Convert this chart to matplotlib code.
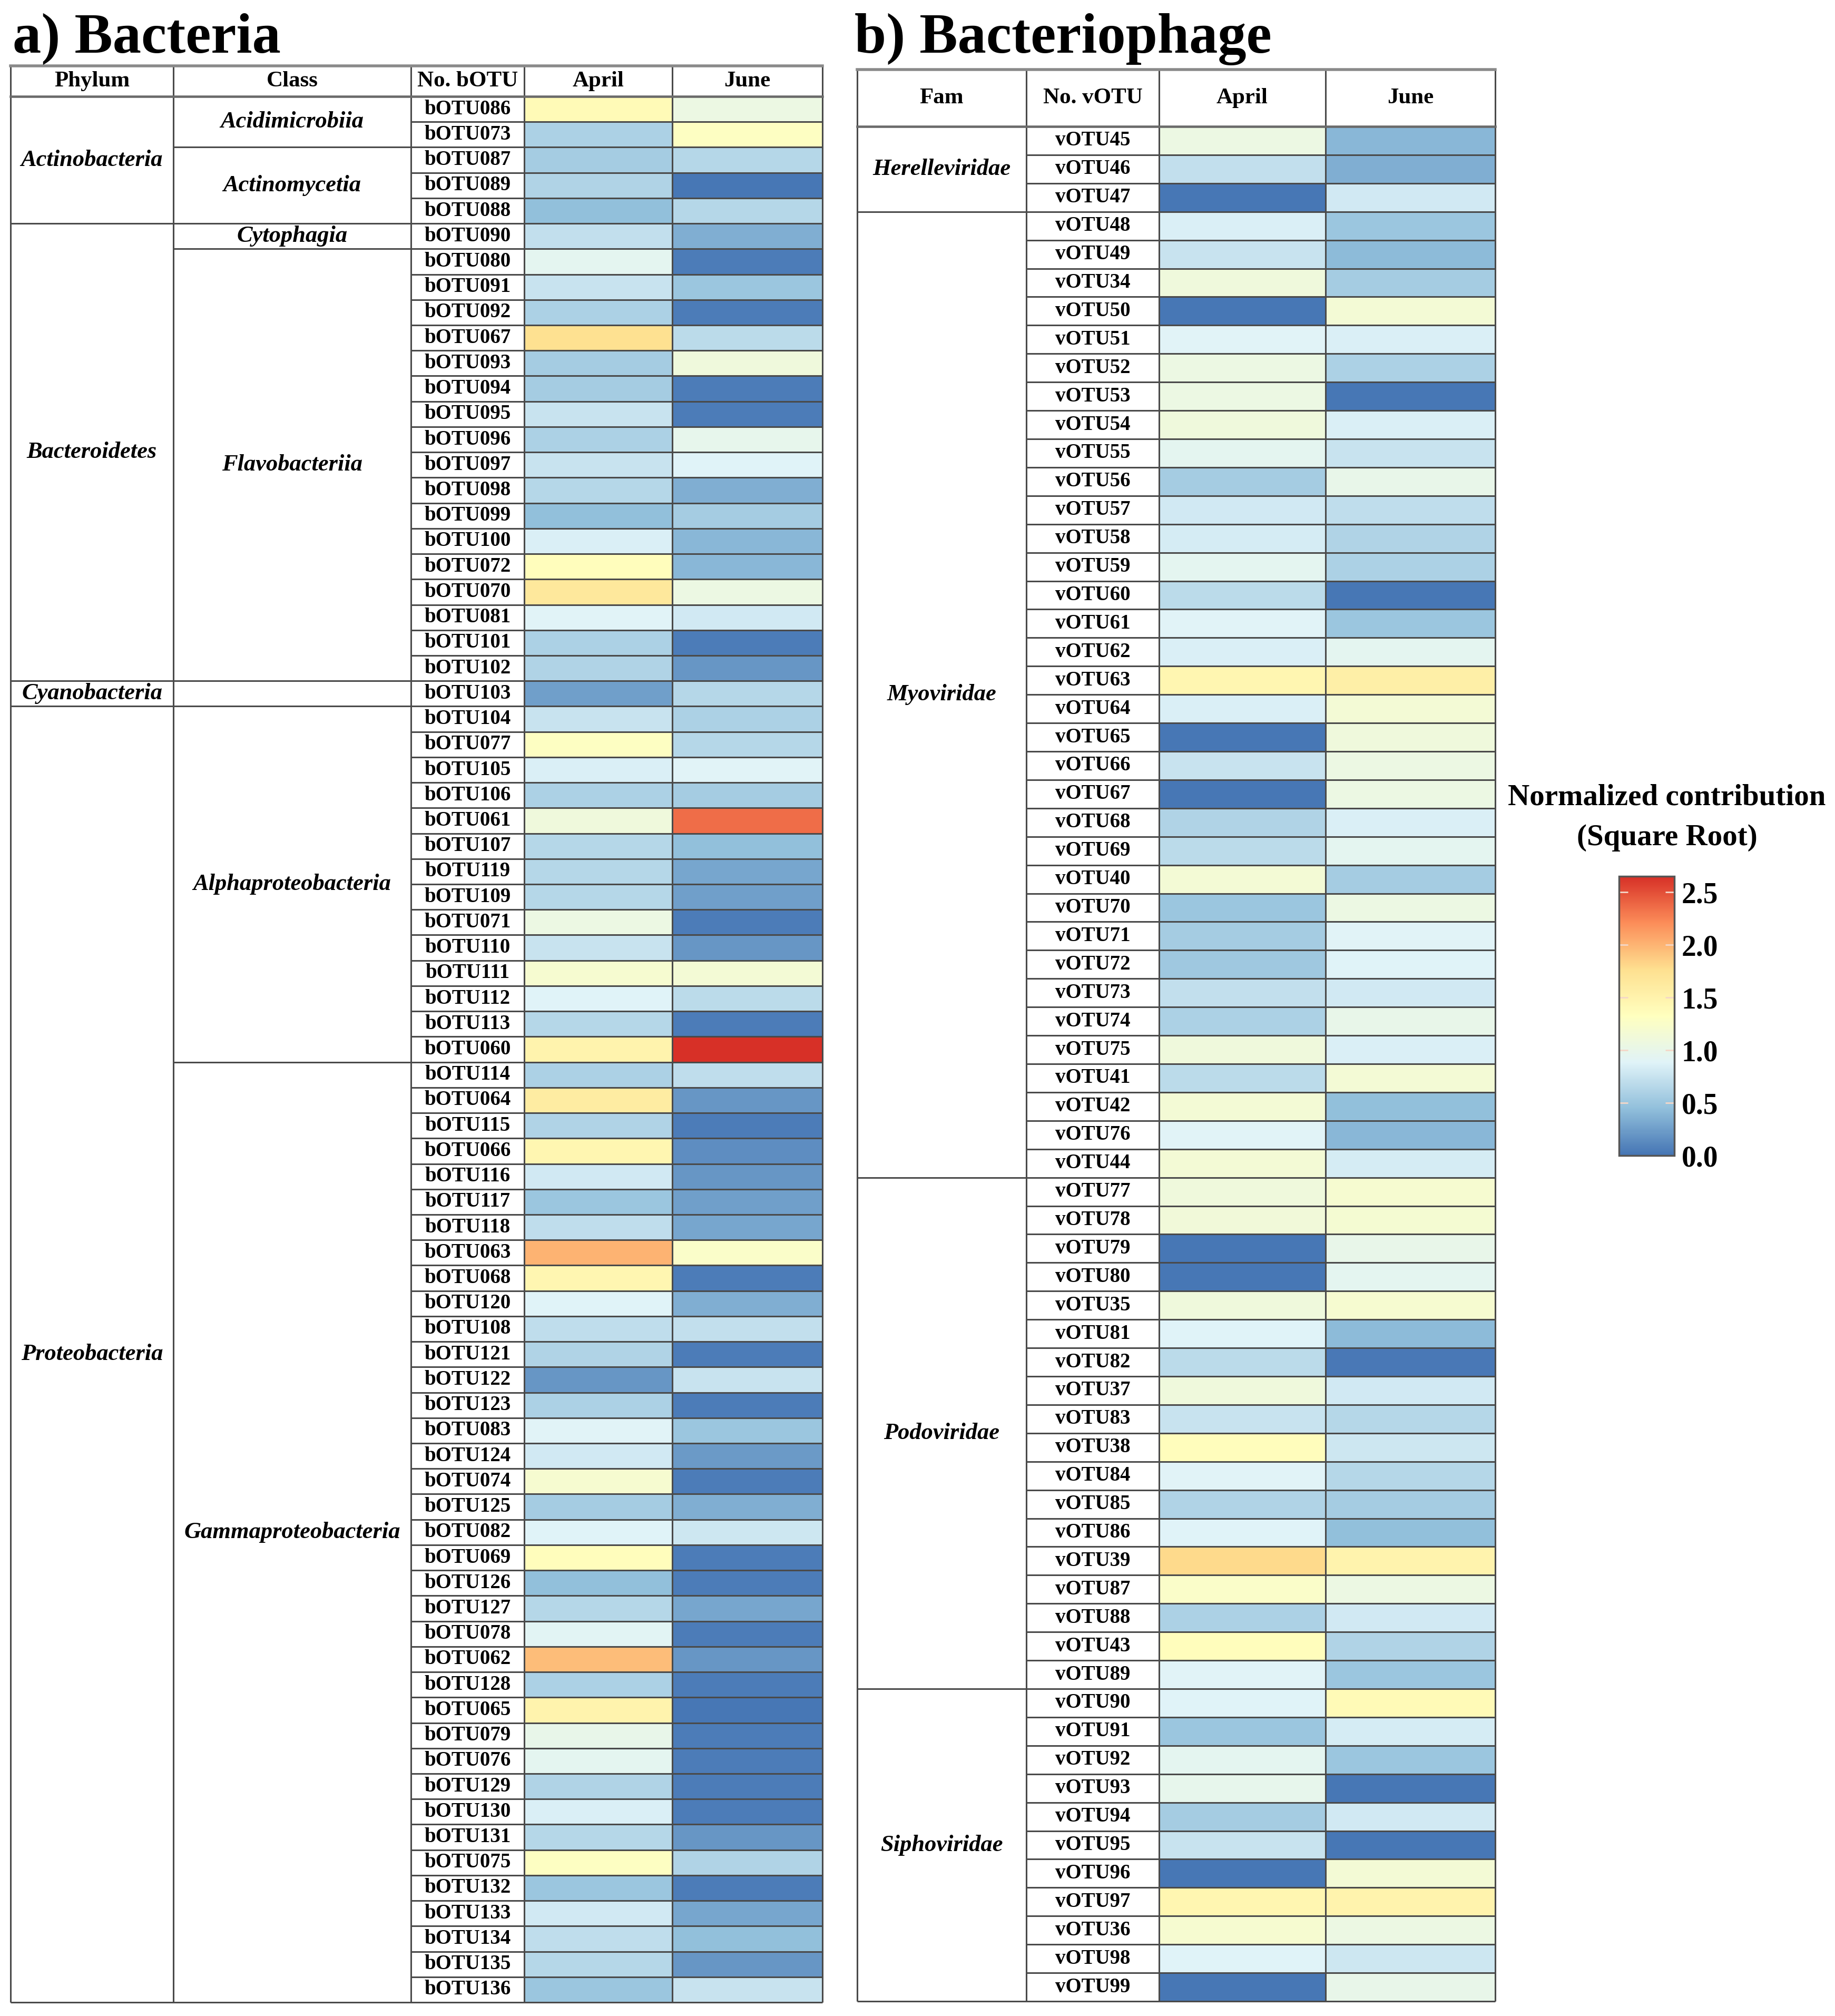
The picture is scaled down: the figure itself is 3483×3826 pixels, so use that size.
import numpy as np
import matplotlib
matplotlib.use("Agg")
import matplotlib.pyplot as plt
from matplotlib.colors import LinearSegmentedColormap, Normalize
import matplotlib.cm as cm

plt.rcParams["font.family"] = ["Liberation Serif", "DejaVu Serif"]

# ---------------- data ----------------
months = ["April", "June"]

b_otu = ["bOTU086", "bOTU073", "bOTU087", "bOTU089", "bOTU088", "bOTU090", "bOTU080",
         "bOTU091", "bOTU092", "bOTU067", "bOTU093", "bOTU094", "bOTU095", "bOTU096",
         "bOTU097", "bOTU098", "bOTU099", "bOTU100", "bOTU072", "bOTU070", "bOTU081",
         "bOTU101", "bOTU102", "bOTU103", "bOTU104", "bOTU077", "bOTU105", "bOTU106",
         "bOTU061", "bOTU107", "bOTU119", "bOTU109", "bOTU071", "bOTU110", "bOTU111",
         "bOTU112", "bOTU113", "bOTU060", "bOTU114", "bOTU064", "bOTU115", "bOTU066",
         "bOTU116", "bOTU117", "bOTU118", "bOTU063", "bOTU068", "bOTU120", "bOTU108",
         "bOTU121", "bOTU122", "bOTU123", "bOTU083", "bOTU124", "bOTU074", "bOTU125",
         "bOTU082", "bOTU069", "bOTU126", "bOTU127", "bOTU078", "bOTU062", "bOTU128",
         "bOTU065", "bOTU079", "bOTU076", "bOTU129", "bOTU130", "bOTU131", "bOTU075",
         "bOTU132", "bOTU133", "bOTU134", "bOTU135", "bOTU136"]
b_april = [1.40, 0.60, 0.55, 0.62, 0.45, 0.72, 0.95, 0.75, 0.60, 1.75, 0.55, 0.55, 0.75,
           0.60, 0.75, 0.65, 0.45, 0.85, 1.35, 1.65, 0.90, 0.60, 0.62, 0.25, 0.75, 1.30,
           0.85, 0.60, 1.10, 0.65, 0.65, 0.65, 1.05, 0.75, 1.20, 0.88, 0.65, 1.50, 0.60,
           1.60, 0.62, 1.45, 0.80, 0.50, 0.70, 2.00, 1.45, 0.88, 0.70, 0.62, 0.20, 0.60,
           0.90, 0.80, 1.20, 0.55, 0.88, 1.35, 0.45, 0.65, 0.92, 1.95, 0.60, 1.50, 1.00,
           0.95, 0.62, 0.85, 0.65, 1.30, 0.50, 0.80, 0.70, 0.65, 0.50]
b_june = [1.05, 1.30, 0.65, 0.02, 0.65, 0.35, 0.05, 0.50, 0.05, 0.68, 1.10, 0.05, 0.05,
          0.98, 0.88, 0.35, 0.55, 0.40, 0.40, 1.05, 0.80, 0.05, 0.20, 0.65, 0.60, 0.65,
          0.90, 0.55, 2.35, 0.45, 0.30, 0.25, 0.05, 0.20, 1.15, 0.68, 0.05, 2.65, 0.70,
          0.20, 0.05, 0.15, 0.20, 0.25, 0.30, 1.25, 0.05, 0.35, 0.72, 0.05, 0.75, 0.05,
          0.50, 0.22, 0.05, 0.35, 0.78, 0.05, 0.05, 0.30, 0.05, 0.20, 0.05, 0.02, 0.05,
          0.05, 0.05, 0.05, 0.20, 0.62, 0.05, 0.30, 0.45, 0.20, 0.75]
b_phylum = ["Actinobacteria", "Bacteroidetes", "Cyanobacteria", "Proteobacteria"]
b_phylum_n = [5, 18, 1, 51]
b_class = ["Acidimicrobiia", "Actinomycetia", "Cytophagia", "Flavobacteriia", "",
           "Alphaproteobacteria", "Gammaproteobacteria"]
b_class_n = [2, 3, 1, 17, 1, 14, 37]

v_otu = ["vOTU45", "vOTU46", "vOTU47", "vOTU48", "vOTU49", "vOTU34", "vOTU50", "vOTU51",
         "vOTU52", "vOTU53", "vOTU54", "vOTU55", "vOTU56", "vOTU57", "vOTU58", "vOTU59",
         "vOTU60", "vOTU61", "vOTU62", "vOTU63", "vOTU64", "vOTU65", "vOTU66", "vOTU67",
         "vOTU68", "vOTU69", "vOTU40", "vOTU70", "vOTU71", "vOTU72", "vOTU73", "vOTU74",
         "vOTU75", "vOTU41", "vOTU42", "vOTU76", "vOTU44", "vOTU77", "vOTU78", "vOTU79",
         "vOTU80", "vOTU35", "vOTU81", "vOTU82", "vOTU37", "vOTU83", "vOTU38", "vOTU84",
         "vOTU85", "vOTU86", "vOTU39", "vOTU87", "vOTU88", "vOTU43", "vOTU89", "vOTU90",
         "vOTU91", "vOTU92", "vOTU93", "vOTU94", "vOTU95", "vOTU96", "vOTU97", "vOTU36",
         "vOTU98", "vOTU99"]
v_april = [1.05, 0.72, 0.02, 0.85, 0.75, 1.10, 0.02, 0.90, 1.05, 1.05, 1.10, 0.95, 0.55,
           0.80, 0.82, 0.95, 0.68, 0.90, 0.85, 1.45, 0.85, 0.02, 0.75, 0.02, 0.62, 0.68,
           1.15, 0.50, 0.55, 0.52, 0.72, 0.60, 1.10, 0.68, 1.15, 0.90, 1.15, 1.10, 1.12,
           0.02, 0.02, 1.10, 0.88, 0.68, 1.10, 0.75, 1.35, 0.90, 0.62, 0.88, 1.80, 1.25,
           0.60, 1.35, 0.90, 0.88, 0.50, 0.95, 0.98, 0.55, 0.75, 0.02, 1.45, 1.20, 0.88,
           0.02]
v_june = [0.40, 0.35, 0.80, 0.50, 0.42, 0.55, 1.15, 0.85, 0.60, 0.02, 0.85, 0.75, 1.00,
          0.70, 0.62, 0.60, 0.02, 0.50, 0.95, 1.55, 1.15, 1.10, 1.05, 1.05, 0.85, 0.95,
          0.55, 1.05, 0.90, 0.88, 0.80, 1.00, 0.85, 1.15, 0.45, 0.40, 0.82, 1.20, 1.18,
          1.00, 0.95, 1.20, 0.42, 0.03, 0.80, 0.65, 0.78, 0.65, 0.55, 0.45, 1.50, 1.05,
          0.80, 0.62, 0.50, 1.40, 0.82, 0.50, 0.02, 0.80, 0.02, 1.15, 1.50, 1.05, 0.78,
          1.00]
v_family = ["Herelleviridae", "Myoviridae", "Podoviridae", "Siphoviridae"]
v_family_n = [3, 34, 18, 11]

# ---------------- styling / layout ----------------
W, H = 3483, 3826
fig = plt.figure(figsize=(W / 100, H / 100), dpi=100)
fig.patch.set_facecolor("white")

cmap = LinearSegmentedColormap.from_list(
    "pheat", ["#4575B4", "#91BFDB", "#E0F3F8", "#FFFFBF", "#FEE090", "#FC8D59", "#D73027"])
vmax = max(max(b_april), max(b_june), max(v_april), max(v_june))
norm = Normalize(vmin=0.0, vmax=vmax)

LC = "#4a4a4a"
LW = 2.2
ROW_FS = 28
HDR_FS = 31
GRP_FS = 32


def add_ax(x0, y0, x1, y1):
    return fig.add_axes([x0 / W, 1 - y1 / H, (x1 - x0) / W, (y1 - y0) / H])


def draw_table(ax, edges, hdr, labels, april, june, groups, headers):
    """edges: column edges in px; hdr: header height in rows;
    groups: list of (names, counts) for the leading label columns."""
    n = len(labels)
    ax.set_xlim(edges[0], edges[-1])
    ax.set_ylim(n, -hdr)
    ax.axis("off")
    k = len(groups)
    c_lab = k
    C = np.column_stack([april, june])
    ax.pcolormesh(edges[c_lab + 1:c_lab + 4], np.arange(n + 1), C, cmap=cmap, norm=norm,
                  shading="flat", zorder=1)
    kw = dict(color=LC, lw=LW, clip_on=False, zorder=3, solid_capstyle="butt")
    for e in edges:
        ax.plot([e, e], [-hdr, n], **kw)
    ax.plot([edges[0], edges[-1]], [-hdr, -hdr], color="#8a8a8a", lw=LW * 1.8,
            clip_on=False, zorder=3)
    ax.plot([edges[0], edges[-1]], [0, 0], color="#6a6a6a", lw=LW * 1.5, clip_on=False,
            zorder=3)
    ax.plot([edges[0], edges[-1]], [n, n], **kw)
    for i in range(1, n):
        ax.plot([edges[c_lab], edges[-1]], [i, i], **kw)
    for gi, (names, counts) in enumerate(groups):
        cx = 0.5 * (edges[gi] + edges[gi + 1])
        start = 0
        for name, cnt in zip(names, counts):
            end = start + cnt
            if end < n:
                ax.plot([edges[gi], edges[gi + 1]], [end, end], **kw)
            if name:
                ax.text(cx, 0.5 * (start + end), name, ha="center", va="center",
                        fontsize=GRP_FS, fontweight="bold", fontstyle="italic", zorder=4)
            start = end
    cx = 0.5 * (edges[c_lab] + edges[c_lab + 1])
    for i, lab in enumerate(labels):
        ax.text(cx, i + 0.5, lab, ha="center", va="center", fontsize=ROW_FS,
                fontweight="bold", zorder=4)
    for j, h in enumerate(headers):
        ax.text(0.5 * (edges[j] + edges[j + 1]), -hdr / 2, h, ha="center", va="center",
                fontsize=HDR_FS, fontweight="bold", zorder=4)


# a) Bacteria
bx0, bx1, by0, by1 = 20, 1561, 125, 3800
b_edges = [20, 329, 780, 995, 1276, 1561]
b_row_h = (by1 - 183) / len(b_otu)
b_hdr = (183 - by0) / b_row_h
axb = add_ax(bx0, by0, bx1, by1)
draw_table(axb, b_edges, b_hdr, b_otu, b_april, b_june,
           [(b_phylum, b_phylum_n), (b_class, b_class_n)],
           ["Phylum", "Class", "No. bOTU"] + months)

# b) Bacteriophage
vx0, vx1, vy0, vy1 = 1627, 2838, 132, 3798
v_edges = [1627, 1948, 2200, 2516, 2838]
v_row_h = (vy1 - 240) / len(v_otu)
v_hdr = (240 - vy0) / v_row_h
axv = add_ax(vx0, vy0, vx1, vy1)
draw_table(axv, v_edges, v_hdr, v_otu, v_april, v_june,
           [(v_family, v_family_n)],
           ["Fam", "No. vOTU"] + months)

# titles
fig.text(24 / W, 1 - 100 / H, "a) Bacteria", ha="left", va="baseline", fontsize=78,
         fontweight="bold")
fig.text(1622 / W, 1 - 100 / H, "b) Bacteriophage", ha="left", va="baseline", fontsize=78,
         fontweight="bold")

# colorbar
cax = add_ax(3073, 1663, 3178, 2193)
sm = cm.ScalarMappable(norm=norm, cmap=cmap)
cb = fig.colorbar(sm, cax=cax, ticks=[0.0, 0.5, 1.0, 1.5, 2.0, 2.5])
cb.outline.set_edgecolor("#555555")
cb.outline.set_linewidth(2.5)
cb.ax.set_yticklabels(["0.0", "0.5", "1.0", "1.5", "2.0", "2.5"])
cb.ax.tick_params(direction="in", length=12, width=2, colors="#f4d7c8", left=True,
                  right=True, labelleft=False, labelright=True, pad=10)
for t in cb.ax.get_yticklabels():
    t.set_color("black")
    t.set_fontsize(40)
    t.set_fontweight("bold")
fig.text(3164 / W, 1 - 1514 / H, "Normalized contribution", ha="center", va="center",
         fontsize=41, fontweight="bold")
fig.text(3164 / W, 1 - 1590 / H, "(Square Root)", ha="center", va="center",
         fontsize=41, fontweight="bold")

fig.savefig("out.png", dpi=100, facecolor="white")
